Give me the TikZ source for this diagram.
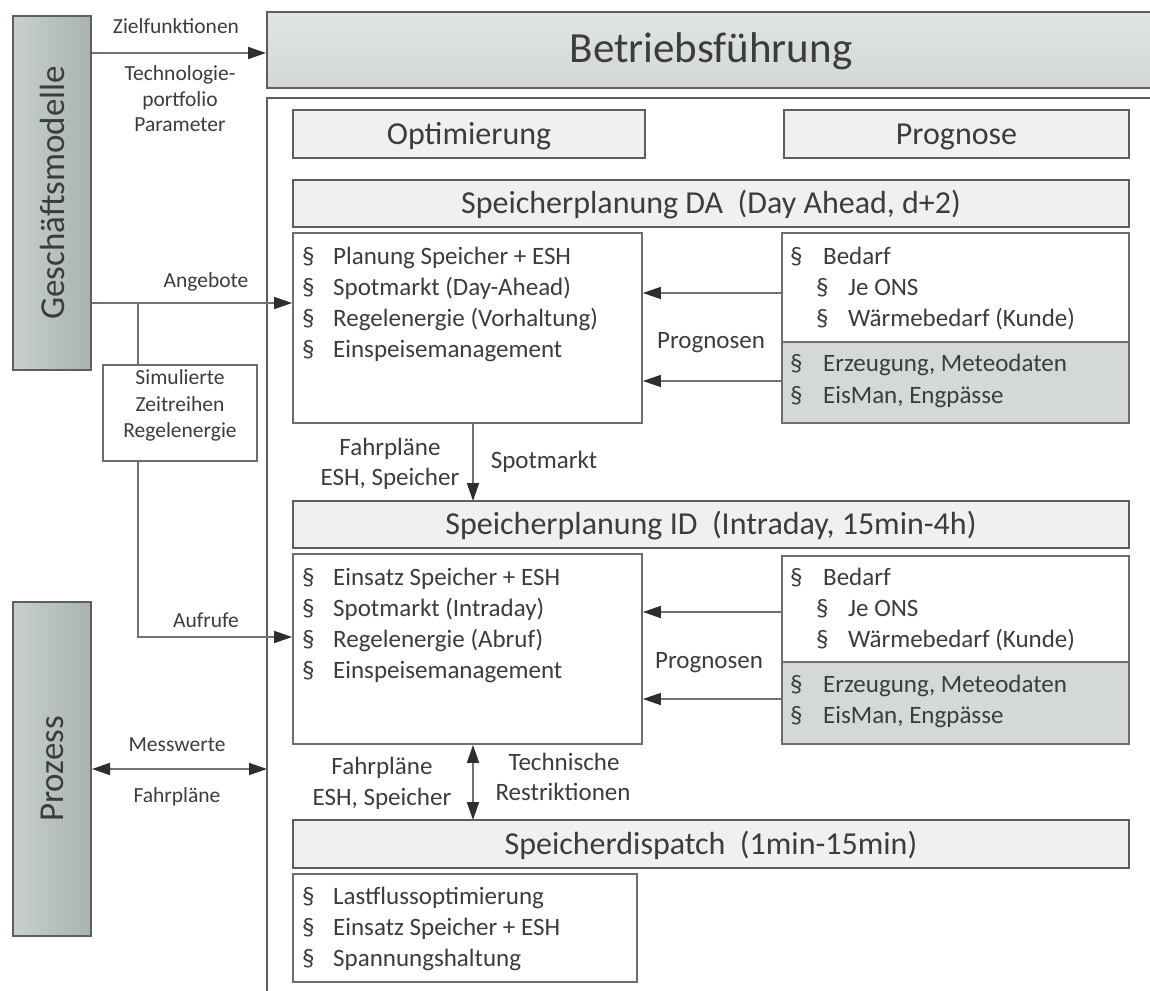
\documentclass[tikz,border=0pt]{standalone}
\usepackage{fontspec}
\setmainfont{Carlito}
\usetikzlibrary{arrows.meta,fit}
\definecolor{txt}{HTML}{3C3C3C}
\definecolor{boxline}{HTML}{6E6E6E}
\definecolor{hdrline}{HTML}{5E5E5E}
\definecolor{connc}{HTML}{727272}
\definecolor{tipc}{HTML}{2E2E2E}
\definecolor{hdrfill}{HTML}{EFF1F0}
\definecolor{bftop}{HTML}{E0E4E3}
\definecolor{bfbot}{HTML}{D2D8D6}
\definecolor{gmleft}{HTML}{C8D0CD}
\definecolor{gmright}{HTML}{A8B2AF}
\definecolor{grayfill}{HTML}{D4D9D8}
\newcommand\fsL{\fontsize{21.5}{26.5}\selectfont}
\newcommand\fsM{\fontsize{25}{31}\selectfont}
\newcommand\fsH{\fontsize{32}{38}\selectfont}
\newcommand\fsBF{\fontsize{43}{50}\selectfont}
\newcommand\fsGM{\fontsize{35}{42}\selectfont}
\newcommand\bulitem[5]{\node[itm] (#1) at (#2,#3) {\makebox[#4][l]{§}#5};}
\begin{document}
\begin{tikzpicture}[x=1pt,y=-1pt,
  every node/.style={text=txt},
  bigtip/.tip={Triangle[length=18pt,width=12pt,color=tipc]},
  conn/.style={draw=connc,line width=1.7pt},
  lbox/.style={draw=boxline,line width=1.8pt,fill=white,inner sep=0pt},
  gbox2/.style={draw=boxline,line width=1.8pt,fill=grayfill,inner sep=0pt},
  sidebox/.style={draw=hdrline,line width=2pt,left color=gmleft,right color=gmright,inner sep=0pt},
  bfbox/.style={draw=hdrline,line width=2pt,top color=bftop,bottom color=bfbot,inner sep=0pt},
  hdr/.style={draw=hdrline,line width=2pt,fill=hdrfill,inner sep=0pt,outer sep=0pt,anchor=center,font=\fsH,text height=27pt,text depth=6.5pt},
  itm/.style={anchor=base west,inner sep=0pt,font=\fsM},
  lab/.style={anchor=base,inner sep=0pt,font=\fsL},
  labm/.style={anchor=base,inner sep=0pt,font=\fsM},
  frame/.style={draw=hdrline,line width=2pt}]
\useasboundingbox (0,0) rectangle (1150,990);
\clip (0,0) rectangle (1150,990);

% side boxes
\node[sidebox, fit={(13,16)(91,370)}] (gm) {};
\node[rotate=90, font=\fsGM, inner sep=0pt] (gmt) at (gm.center) {Geschäftsmodelle};
\node[sidebox, fit={(13,602)(91,936)}] (pz) {};
\node[rotate=90, font=\fsGM, inner sep=0pt] (pzt) at (pz.center) {Prozess};

% Betriebsfuehrung
\node[bfbox, fit={(267,12)(1165,88)}] (bf) {};
\node[anchor=base, font=\fsBF, inner sep=0pt] (bft) at (711,63) {Betriebsführung};

% frame
\coordinate (frtl) at (267,98);
\draw[frame] (267,1000) -- (frtl) -- (1165,98);

% headers
\node[hdr, minimum width=352pt, minimum height=48pt] (opt) at (469,134) {Optimierung};
\node[hdr, minimum width=345pt, minimum height=48pt] (prg) at (956.5,134) {Prognose};
\node[hdr, minimum width=836pt, minimum height=47pt] (hda) at (711,203.5) {Speicherplanung DA~~(Day Ahead, d+2)};
\node[hdr, minimum width=836pt, minimum height=47pt] (hid) at (711,524.5) {Speicherplanung ID~~(Intraday, 15min-4h)};
\node[hdr, minimum width=836pt, minimum height=48pt] (hsd) at (711,844) {Speicherdispatch~~(1min-15min)};

% list boxes
\node[lbox, fit={(293,233)(642,423)}] (lda) {};
\node[lbox, fit={(782,233)(1129,342)}] (pda1) {};
\node[gbox2, fit={(782,342)(1129,423)}] (pda2) {};
\node[lbox, fit={(293,554)(642,744)}] (lid) {};
\node[lbox, fit={(782,556)(1129,662)}] (pid1) {};
\node[gbox2, fit={(782,662)(1129,744)}] (pid2) {};
\node[lbox, fit={(293,874)(637,982)}] (lsd) {};
\node[lbox, font=\fsL, align=center, fit={(103,365)(257,461)}] (sim) {Simulierte\\Zeitreihen\\Regelenergie};

% DA items
\bulitem{a1}{302}{264}{31pt}{Planung Speicher + ESH}
\bulitem{a2}{302}{295}{31pt}{Spotmarkt (Day-Ahead)}
\bulitem{a3}{302}{326}{31pt}{Regelenergie (Vorhaltung)}
\bulitem{a4}{302}{357}{31pt}{Einspeisemanagement}
\bulitem{b1}{790}{264}{33pt}{Bedarf}
\bulitem{b2}{816}{295}{32pt}{Je ONS}
\bulitem{b3}{816}{326}{32pt}{Wärmebedarf (Kunde)}
\bulitem{b4}{790}{371}{33pt}{Erzeugung, Meteodaten}
\bulitem{b5}{790}{403}{33pt}{EisMan, Engpässe}
% ID items
\bulitem{c1}{302}{585}{31pt}{Einsatz Speicher + ESH}
\bulitem{c2}{302}{616}{31pt}{Spotmarkt (Intraday)}
\bulitem{c3}{302}{647}{31pt}{Regelenergie (Abruf)}
\bulitem{c4}{302}{678}{31pt}{Einspeisemanagement}
\bulitem{d1}{790}{585}{33pt}{Bedarf}
\bulitem{d2}{816}{616}{32pt}{Je ONS}
\bulitem{d3}{816}{647}{32pt}{Wärmebedarf (Kunde)}
\bulitem{d4}{790}{692}{33pt}{Erzeugung, Meteodaten}
\bulitem{d5}{790}{723}{33pt}{EisMan, Engpässe}
% dispatch items
\bulitem{e1}{302}{904}{31pt}{Lastflussoptimierung}
\bulitem{e2}{302}{935}{31pt}{Einsatz Speicher + ESH}
\bulitem{e3}{302}{966}{31pt}{Spannungshaltung}

% left connectors
\draw[conn,-bigtip] (gm.east |- 0,53) -- (bf.west |- 0,53);
\node[lab] (lz) at (176,34) {Zielfunktionen};
\node[lab] (lt1) at (180,80) {Technologie-};
\node[lab] (lt2) at (180,106) {portfolio};
\node[lab] (lt3) at (180,131) {Parameter};

\coordinate (br) at (138,303);
\draw[conn,-bigtip] (gm.east |- br) -- (lda.west |- br);
\node[lab] (lang) at (206,287) {Angebote};
\draw[conn] (br) -- (br |- sim.north);
\draw[conn,-bigtip] (br |- sim.south) |- (lid.west |- 0,637);
\node[lab] (lauf) at (206,627) {Aufrufe};

\draw[conn,bigtip-bigtip] (pz.east |- 0,769) -- (frtl |- 0,769);
\node[lab] (lmw) at (177,751) {Messwerte};
\node[lab] (lfp) at (177,802) {Fahrpläne};

% Prognosen arrows
\draw[conn,-bigtip] (pda1.west |- 0,293) -- (lda.east |- 0,293);
\draw[conn,-bigtip] (pda2.west |- 0,381) -- (lda.east |- 0,381);
\node[labm] (lpr1) at (711,348) {Prognosen};
\draw[conn,-bigtip] (pid1.west |- 0,612) -- (lid.east |- 0,612);
\draw[conn,-bigtip] (pid2.west |- 0,699) -- (lid.east |- 0,699);
\node[labm] (lpr2) at (709,668) {Prognosen};

% vertical arrows
\draw[conn,-bigtip] (lda.south -| 473,0) -- (hid.north -| 473,0);
\node[labm] (lf1) at (390,455) {Fahrpläne};
\node[labm] (lf2) at (390,485) {ESH, Speicher};
\node[labm] (lsp) at (544,468) {Spotmarkt};

\draw[conn,bigtip-bigtip] (lid.south -| 473,0) -- (hsd.north -| 473,0);
\node[labm] (lf3) at (382,774) {Fahrpläne};
\node[labm] (lf4) at (382,805) {ESH, Speicher};
\node[labm] (ltc) at (564,770) {Technische};
\node[labm] (lrs) at (563,800) {Restriktionen};
\end{tikzpicture}
\end{document}
